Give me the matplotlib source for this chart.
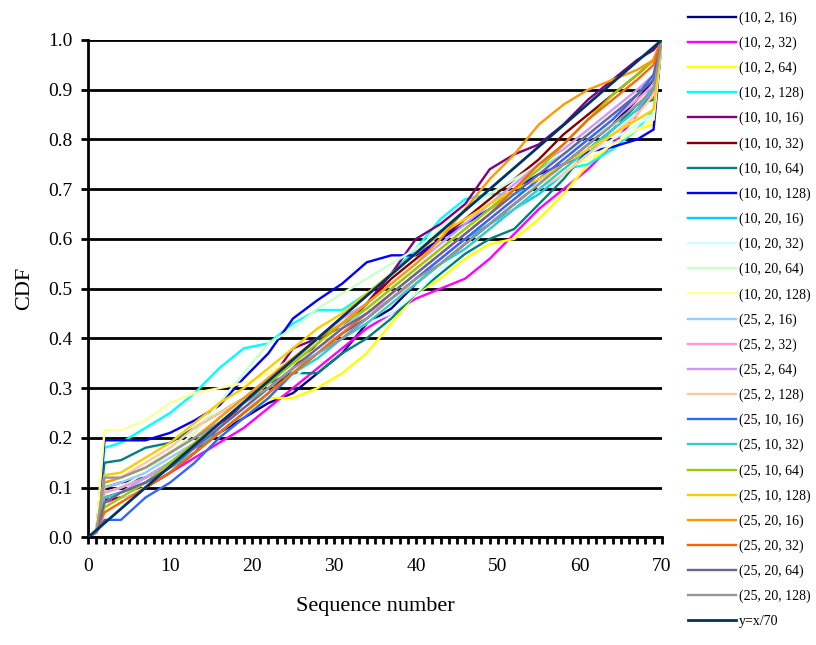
import matplotlib
matplotlib.use("Agg")
import matplotlib.pyplot as plt
from matplotlib.ticker import MultipleLocator, FormatStrFormatter

plt.rcParams.update({'font.family': 'Liberation Serif', 'font.size': 14})

seq = [0, 1, 2, 4, 7, 10, 13, 16, 19, 22, 25, 28, 31, 34, 37, 40, 43, 46, 49,
       52, 55, 58, 61, 64, 67, 69, 70]

labels = ["(10, 2, 16)", "(10, 2, 32)", "(10, 2, 64)", "(10, 2, 128)",
          "(10, 10, 16)", "(10, 10, 32)", "(10, 10, 64)", "(10, 10, 128)",
          "(10, 20, 16)", "(10, 20, 32)", "(10, 20, 64)", "(10, 20, 128)",
          "(25, 2, 16)", "(25, 2, 32)", "(25, 2, 64)", "(25, 2, 128)",
          "(25, 10, 16)", "(25, 10, 32)", "(25, 10, 64)", "(25, 10, 128)",
          "(25, 20, 16)", "(25, 20, 32)", "(25, 20, 64)", "(25, 20, 128)"]

colors = ["#000080", "#ff00ff", "#ffff00", "#00ffff", "#800080", "#800000",
          "#008080", "#0000ff", "#00ccff", "#ccffff", "#ccffcc", "#ffff99",
          "#99ccff", "#ff99cc", "#cc99ff", "#ffcc99", "#3366ff", "#33cccc",
          "#99cc00", "#ffcc00", "#ff9900", "#ff6600", "#666699", "#969696"]

cdf = [
    [0, .01, .10, .11, .12, .15, .18, .21, .24, .27, .29, .33, .37, .43, .46, .51, .55, .59, .63, .67, .71, .75, .79, .83, .88, .92, 1],
    [0, .01, .07, .08, .10, .13, .16, .19, .22, .26, .30, .34, .38, .42, .45, .48, .50, .52, .56, .61, .66, .70, .74, .79, .85, .90, 1],
    [0, .01, .06, .08, .11, .14, .17, .21, .25, .28, .28, .30, .33, .37, .43, .49, .52, .56, .59, .60, .64, .69, .75, .79, .82, .83, 1],
    [0, .01, .18, .19, .22, .25, .29, .34, .38, .39, .43, .457, .457, .49, .53, .58, .64, .68, .69, .69, .71, .74, .75, .78, .82, .86, 1],
    [0, .01, .08, .09, .11, .14, .17, .22, .27, .31, .38, .40, .42, .47, .53, .60, .63, .67, .74, .77, .79, .83, .88, .92, .96, .98, 1],
    [0, .01, .075, .08, .10, .13, .17, .21, .25, .29, .34, .39, .43, .47, .52, .56, .60, .64, .68, .72, .76, .81, .85, .89, .93, .96, 1],
    [0, .01, .15, .155, .18, .19, .22, .25, .28, .31, .33, .33, .37, .40, .44, .49, .53, .57, .60, .62, .67, .72, .78, .82, .87, .88, 1],
    [0, .01, .195, .195, .195, .21, .235, .265, .32, .37, .44, .477, .51, .553, .567, .567, .60, .63, .66, .70, .73, .75, .775, .785, .80, .82, 1],
    [0, .01, .09, .10, .12, .15, .18, .21, .25, .29, .33, .37, .40, .44, .48, .52, .56, .60, .63, .66, .69, .73, .77, .82, .86, .91, 1],
    [0, .015, .06, .08, .10, .14, .18, .22, .26, .29, .32, .36, .40, .43, .45, .49, .54, .58, .62, .66, .70, .73, .77, .80, .83, .85, 1],
    [0, .015, .09, .10, .13, .17, .21, .27, .33, .39, .42, .46, .49, .52, .55, .58, .62, .66, .69, .72, .75, .77, .80, .83, .84, .85, 1],
    [0, .015, .215, .215, .235, .27, .29, .30, .31, .33, .36, .39, .42, .46, .50, .54, .58, .62, .65, .68, .71, .74, .76, .79, .82, .84, 1],
    [0, .01, .10, .11, .13, .16, .19, .23, .27, .31, .35, .38, .42, .46, .50, .54, .58, .62, .66, .70, .74, .77, .81, .85, .89, .93, 1],
    [0, .01, .09, .10, .12, .15, .18, .22, .26, .30, .34, .37, .41, .45, .48, .52, .56, .60, .64, .68, .72, .76, .80, .84, .88, .91, 1],
    [0, .01, .07, .09, .12, .15, .19, .24, .28, .32, .36, .40, .44, .47, .51, .55, .59, .63, .67, .71, .75, .78, .82, .86, .90, .93, 1],
    [0, .01, .11, .12, .15, .18, .22, .25, .28, .32, .35, .38, .41, .44, .48, .51, .55, .58, .62, .66, .70, .73, .77, .81, .85, .89, 1],
    [0, .01, .035, .035, .08, .11, .15, .20, .24, .28, .33, .37, .41, .44, .48, .52, .56, .60, .64, .68, .72, .76, .80, .84, .89, .93, 1],
    [0, .01, .08, .09, .11, .14, .17, .21, .25, .29, .33, .36, .40, .43, .47, .51, .55, .58, .62, .66, .70, .74, .78, .82, .86, .90, 1],
    [0, .01, .06, .08, .11, .15, .19, .23, .27, .31, .35, .39, .43, .46, .50, .54, .58, .62, .66, .70, .74, .79, .84, .89, .93, .96, 1],
    [0, .01, .125, .13, .16, .19, .23, .27, .30, .34, .38, .42, .45, .49, .53, .57, .61, .64, .67, .70, .72, .75, .78, .81, .84, .86, 1],
    [0, .01, .11, .12, .14, .17, .20, .24, .28, .32, .36, .40, .43, .47, .51, .55, .60, .66, .72, .77, .83, .87, .90, .92, .94, .96, 1],
    [0, .01, .05, .07, .10, .13, .17, .21, .25, .29, .33, .37, .41, .45, .49, .53, .57, .61, .65, .70, .75, .79, .84, .88, .92, .95, 1],
    [0, .01, .07, .09, .11, .14, .18, .22, .26, .30, .34, .38, .42, .45, .49, .53, .57, .61, .65, .69, .73, .77, .81, .85, .89, .92, 1],
    [0, .01, .12, .12, .14, .17, .20, .23, .27, .30, .34, .37, .40, .44, .48, .52, .55, .59, .63, .67, .71, .75, .79, .83, .87, .90, 1],
]

# reference line y = x/70, two end points
ref_x = [0, 70]
ref_y = [0, 1]

fig = plt.figure(figsize=(8.16, 6.45), dpi=100)
ax = fig.add_axes([0.108, 0.167, 0.703, 0.771])

for y in [0.1 * i for i in range(11)]:
    ax.axhline(y, color='black', lw=2.0, zorder=1)

handles = []
for lab, col, vals in zip(labels, colors, cdf):
    h, = ax.plot(seq, vals, color=col, lw=1.7, label=lab, zorder=2)
    handles.append(h)
h, = ax.plot(ref_x, ref_y, color="#003366", lw=2.0, label="y=x/70", zorder=3)
handles.append(h)

ax.set_xlim(0, 70)
ax.set_ylim(0, 1)
ax.xaxis.set_major_locator(MultipleLocator(10))
ax.xaxis.set_minor_locator(MultipleLocator(1))
ax.yaxis.set_major_locator(MultipleLocator(0.1))
ax.yaxis.set_major_formatter(FormatStrFormatter('%.1f'))
ax.tick_params(axis='both', which='major', direction='out', length=5, width=2, labelsize=14)
ax.tick_params(axis='x', which='minor', direction='out', length=5, width=2)
ax.tick_params(axis='x', pad=10)
ax.tick_params(axis='y', pad=6)

for side in ['top', 'right']:
    ax.spines[side].set_visible(False)
for side in ['left', 'bottom']:
    ax.spines[side].set_linewidth(2)

ax.set_xlabel("Sequence number", fontsize=16, labelpad=16)
ax.set_ylabel("CDF", fontsize=16, labelpad=10)

fig.legend(handles=handles, loc='upper left', bbox_to_anchor=(0.836, 0.991),
           frameon=False, fontsize=10, handlelength=3.45, handletextpad=0.25,
           labelspacing=0.84, borderaxespad=0)

fig.savefig("out.png", dpi=100)
